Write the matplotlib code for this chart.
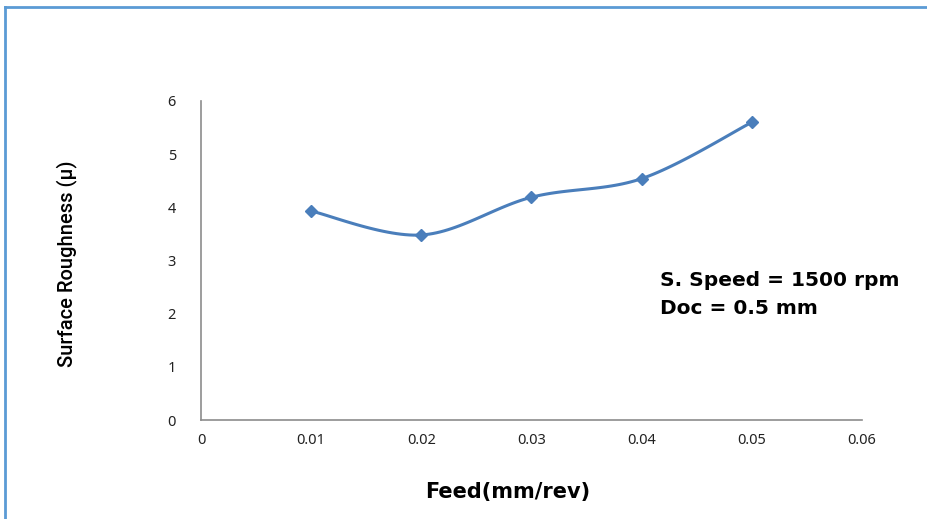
import matplotlib.pyplot as plt
import numpy as np
from matplotlib.lines import Line2D

feed = [0.01, 0.02, 0.03, 0.04, 0.05]
roughness = [3.93, 3.48, 4.19, 4.54, 5.60]
x_ticks = [0, 0.01, 0.02, 0.03, 0.04, 0.05, 0.06]
x_tick_labels = ["0", "0.01", "0.02", "0.03", "0.04", "0.05", "0.06"]
y_ticks = [0, 1, 2, 3, 4, 5, 6]

BLUE = "#4a7ebb"


def smooth(x, y, n=30):
    # Catmull-Rom style bezier, like spreadsheet "smoothed line"
    x = np.asarray(x, float)
    y = np.asarray(y, float)
    px = np.concatenate([[x[0]], x, [x[-1]]])
    py = np.concatenate([[y[0]], y, [y[-1]]])
    xs, ys = [], []
    t = np.linspace(0, 1, n)
    for i in range(1, len(px) - 2):
        p0 = np.array([px[i], py[i]])
        p3 = np.array([px[i + 1], py[i + 1]])
        c1 = p0 + (np.array([px[i + 1], py[i + 1]]) - np.array([px[i - 1], py[i - 1]])) / 6
        c2 = p3 - (np.array([px[i + 2], py[i + 2]]) - np.array([px[i], py[i]])) / 6
        pts = ((1 - t) ** 3)[:, None] * p0 + (3 * (1 - t) ** 2 * t)[:, None] * c1 \
            + (3 * (1 - t) * t ** 2)[:, None] * c2 + (t ** 3)[:, None] * p3
        xs.extend(pts[:, 0])
        ys.extend(pts[:, 1])
    return np.array(xs), np.array(ys)


fig = plt.figure(figsize=(9.28, 5.19), dpi=100)
ax = fig.add_axes([201 / 928, 1 - 420 / 519, (862 - 201) / 928, (420 - 101) / 519])

sx, sy = smooth(feed, roughness)
ax.plot(sx, sy, color=BLUE, linewidth=2.2, solid_capstyle="round")
ax.plot(feed, roughness, linestyle="none", marker="D", markersize=6.5, color=BLUE)

ax.set_xlim(0, 0.06)
ax.set_ylim(0, 6)
ax.set_xticks(x_ticks)
ax.set_xticklabels(x_tick_labels)
ax.set_yticks(y_ticks)
ax.tick_params(length=0, labelsize=10.5, colors="#222222", pad=9)
ax.tick_params(axis="y", pad=18)
for lab in ax.get_xticklabels() + ax.get_yticklabels():
    lab.set_family("Noto Sans")

for side in ["top", "right"]:
    ax.spines[side].set_visible(False)
for side in ["left", "bottom"]:
    ax.spines[side].set_color("#8c8c8c")
    ax.spines[side].set_linewidth(1.2)

fig.text(508 / 928, 1 - 492 / 519, "Feed(mm/rev)", ha="center", va="center",
         fontsize=15, fontweight="bold", family="DejaVu Sans")
fig.text(67 / 928, 1 - 264 / 519, "Surface Roughness (\u03bc)", ha="center", va="center",
         rotation=90, fontsize=14.5, family="Roboto", fontweight="medium")

fig.text(660 / 928, 1 - 281 / 519, "S. Speed = 1500 rpm", ha="left", va="center",
         fontsize=14.5, fontweight="bold", family="DejaVu Sans")
fig.text(660 / 928, 1 - 308 / 519, "Doc = 0.5 mm", ha="left", va="center",
         fontsize=14.5, fontweight="bold", family="DejaVu Sans")

border = "#5b9bd5"
fig.add_artist(Line2D([5 / 928, 5 / 928], [0, 1 - 7 / 519], transform=fig.transFigure,
                      color=border, linewidth=2))
fig.add_artist(Line2D([5 / 928, 1], [1 - 7 / 519, 1 - 7 / 519], transform=fig.transFigure,
                      color=border, linewidth=2))

fig.savefig("out.png", dpi=100)
